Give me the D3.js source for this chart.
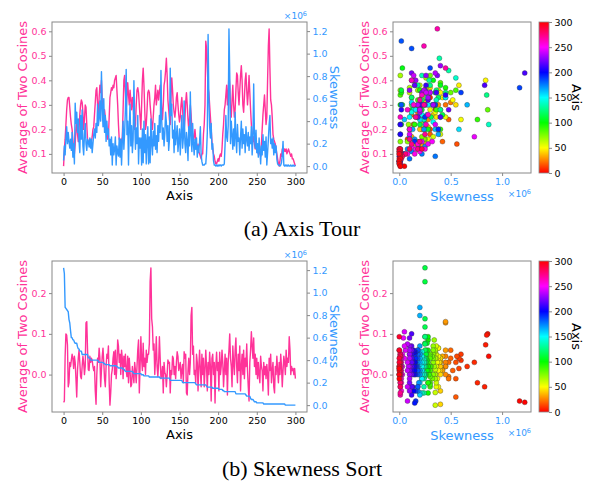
<!DOCTYPE html>
<html>
<head>
<meta charset="utf-8">
<script src="https://cdn.jsdelivr.net/npm/d3@7"></script>
<style>
body{margin:0;background:#fff}
</style>
</head>
<body>
<div id="chart"></div>
<script>
// axis index 0..300
var axisIdx = d3.range(0, 301);

// (a) Axis Tour : average of two cosines, per axis
var tourCos = [
 0.05,0.12,0.16,0.22,0.28,0.32,0.33,0.33,0.29,0.25,
 0.22,0.20,0.16,0.12,0.10,0.14,0.20,0.24,0.18,0.15,
 0.20,0.26,0.30,0.32,0.31,0.27,0.20,0.24,0.30,0.29,
 0.22,0.16,0.14,0.15,0.16,0.14,0.15,0.17,0.20,0.21,
 0.26,0.31,0.36,0.37,0.30,0.25,0.33,0.38,0.35,0.40,
 0.32,0.27,0.24,0.28,0.25,0.22,0.18,0.16,0.17,0.25,
 0.33,0.35,0.37,0.36,0.38,0.37,0.40,0.41,0.42,0.36,
 0.30,0.22,0.16,0.15,0.16,0.15,0.17,0.28,0.40,0.42,
 0.35,0.28,0.33,0.39,0.34,0.30,0.36,0.32,0.28,0.33,
 0.30,0.24,0.20,0.22,0.30,0.36,0.37,0.35,0.30,0.25,
 0.20,0.30,0.40,0.45,0.38,0.28,0.20,0.22,0.28,0.35,
 0.36,0.35,0.30,0.26,0.22,0.20,0.25,0.30,0.33,0.38,
 0.30,0.33,0.36,0.32,0.35,0.38,0.34,0.28,0.24,0.30,
 0.38,0.40,0.44,0.49,0.42,0.32,0.28,0.24,0.22,0.33,
 0.41,0.36,0.30,0.27,0.25,0.28,0.33,0.35,0.30,0.26,
 0.23,0.25,0.30,0.33,0.28,0.22,0.20,0.24,0.31,0.35,
 0.30,0.24,0.20,0.25,0.30,0.26,0.20,0.18,0.15,0.17,
 0.20,0.16,0.13,0.12,0.14,0.11,0.10,0.09,0.08,0.10,
 0.10,0.18,0.22,0.30,0.56,0.53,0.45,0.37,0.35,0.30,
 0.25,0.20,0.15,0.12,0.10,0.09,0.07,0.06,0.06,0.07,
 0.08,0.07,0.09,0.10,0.09,0.12,0.18,0.22,0.28,0.30,
 0.34,0.38,0.30,0.35,0.43,0.38,0.28,0.25,0.32,0.38,
 0.30,0.25,0.28,0.36,0.43,0.42,0.35,0.30,0.36,0.42,
 0.46,0.40,0.30,0.27,0.33,0.40,0.43,0.36,0.30,0.35,
 0.42,0.35,0.28,0.22,0.18,0.15,0.17,0.14,0.12,0.15,
 0.13,0.11,0.10,0.12,0.10,0.09,0.14,0.20,0.26,0.30,
 0.34,0.28,0.22,0.25,0.40,0.54,0.61,0.45,0.32,0.30,
 0.25,0.18,0.16,0.15,0.14,0.12,0.10,0.08,0.06,0.05,
 0.07,0.10,0.09,0.12,0.12,0.11,0.12,0.11,0.12,0.10,
 0.11,0.12,0.11,0.10,0.09,0.10,0.08,0.08,0.07,0.06,0.05
];

// (a) Axis Tour : skewness per axis (x 1e6)
var tourSkew = [
 0.05,0.18,0.10,0.25,0.35,0.20,0.30,0.22,0.16,0.24,
 0.14,0.30,0.08,0.20,0.02,0.56,0.38,0.48,0.30,0.42,
 0.22,0.12,0.45,0.24,0.50,0.18,0.10,0.28,0.38,0.20,
 0.14,0.24,0.22,0.17,0.25,0.16,0.24,0.12,0.20,0.28,
 0.33,0.25,0.38,0.30,0.55,0.36,0.42,0.58,0.40,0.84,
 0.52,0.35,0.60,0.30,0.45,0.22,0.40,0.28,0.33,0.18,
 0.24,0.10,0.26,0.01,0.20,0.10,0.15,0.26,0.01,0.18,
 0.12,0.09,0.25,0.08,0.24,0.01,0.22,0.40,0.15,0.30,
 0.50,0.86,0.28,0.40,0.01,0.35,0.55,0.18,0.36,0.12,
 0.24,0.76,0.40,0.15,0.34,0.20,0.45,0.02,0.25,0.16,
 0.25,0.01,0.33,0.03,0.40,0.12,0.28,0.02,0.22,0.35,
 0.02,0.26,0.03,0.42,0.20,0.10,0.31,0.18,0.38,0.15,
 0.27,0.12,0.36,0.22,0.45,0.30,0.85,0.40,0.24,0.34,
 0.18,0.29,0.48,0.39,0.22,0.36,0.14,0.24,0.87,0.45,
 0.55,0.25,0.32,0.12,0.40,0.19,0.27,0.36,0.13,0.22,
 0.33,0.10,0.28,0.45,0.16,0.25,0.58,0.20,0.12,0.30,
 0.22,0.05,0.35,0.18,0.66,0.27,0.13,0.38,0.20,0.10,
 0.24,0.15,0.25,0.08,0.18,0.12,0.22,0.35,0.10,0.04,
 0.01,0.01,0.01,0.02,0.02,0.12,0.30,1.17,0.60,0.35,
 0.25,0.38,0.15,0.20,0.05,0.01,0.01,0.00,0.01,0.00,
 0.01,0.00,0.01,0.01,0.00,0.01,0.01,0.01,0.02,0.20,
 0.45,0.26,0.22,0.36,1.22,0.83,0.20,0.40,0.28,0.15,
 0.33,0.18,0.48,0.25,0.12,0.37,0.22,0.25,0.10,0.26,
 0.40,0.16,0.33,0.20,0.28,0.12,0.35,0.24,0.18,0.30,
 0.14,0.26,0.20,0.35,0.10,0.22,0.73,0.28,0.16,0.32,
 0.12,0.20,0.08,0.25,0.15,0.02,0.18,0.10,0.28,0.14,
 0.22,0.08,0.26,0.01,0.12,0.24,0.37,0.45,0.20,0.24,
 0.16,0.25,0.10,0.20,0.12,0.18,0.06,0.02,0.01,0.01,
 0.00,0.01,0.03,0.10,0.22,0.01,0.00,0.01,0.00,0.01,
 0.00,0.01,0.00,0.00,0.01,0.00,0.00,0.01,0.00,0.00,0.01
];

// (b) Skewness Sort : average of two cosines, in skewness order
var sortCos = [
 -0.068,-0.065,0.045,0.100,0.097,0.073,-0.030,-0.020,0.030,0.020,
 0.035,0.050,0.040,0.015,0.045,0.030,-0.010,-0.055,0.010,0.040,
 0.060,0.030,-0.005,-0.010,0.020,0.045,0.030,0.000,0.020,0.127,
 0.130,0.060,0.012,0.010,0.045,0.030,0.040,0.035,0.020,0.010,
 0.020,-0.040,-0.073,0.000,0.040,0.030,0.065,0.040,-0.030,0.010,
 0.045,0.065,0.030,-0.010,-0.030,0.020,0.050,0.040,0.070,-0.020,
 -0.075,-0.044,0.000,0.012,0.040,0.056,0.000,0.060,-0.010,0.020,
 0.085,0.070,0.030,0.050,0.000,0.060,0.040,-0.010,0.045,0.020,
 0.050,0.010,-0.005,0.045,-0.020,0.040,0.010,-0.030,-0.025,0.020,
 0.000,-0.020,0.030,0.010,-0.020,0.020,0.060,0.085,-0.045,0.020,
 0.093,0.036,0.010,0.077,0.020,0.040,0.000,0.060,0.030,0.050,
 0.050,0.077,0.228,0.262,0.137,0.117,0.060,0.075,0.000,0.040,
 0.093,0.020,-0.005,0.030,0.093,0.040,-0.010,0.000,0.020,-0.045,
 0.030,0.005,0.000,-0.030,0.000,0.036,0.028,0.030,-0.045,0.010,
 0.000,0.045,0.040,0.000,0.020,-0.010,0.030,0.056,0.045,0.010,
 0.020,0.030,-0.010,0.010,0.025,-0.020,0.056,0.040,0.050,-0.045,
 -0.050,0.010,0.040,0.000,0.030,0.145,0.165,0.050,0.070,0.000,
 0.010,-0.020,0.050,0.030,-0.040,0.020,0.060,0.010,-0.030,0.050,
 0.000,0.040,-0.030,0.010,0.060,0.020,-0.040,0.030,0.000,0.055,
 0.020,-0.065,0.040,0.050,0.000,0.030,-0.070,0.020,0.055,0.010,
 0.030,-0.040,0.055,0.000,0.020,0.060,0.030,-0.030,0.010,0.050,
 0.000,0.040,-0.050,0.030,0.060,0.100,0.040,0.020,-0.030,0.070,
 0.030,0.000,0.060,0.090,0.020,-0.020,0.050,0.010,0.070,-0.040,
 0.020,0.050,0.000,0.060,-0.010,0.040,0.020,0.075,0.010,-0.030,
 -0.065,0.030,0.060,0.105,0.070,0.040,0.090,0.020,0.050,0.000,
 0.040,-0.010,0.030,0.000,-0.020,0.045,0.020,0.010,-0.040,0.030,
 0.000,0.020,-0.010,0.025,0.000,-0.050,0.040,0.010,0.050,-0.020,
 0.010,0.030,-0.030,-0.045,0.020,0.000,0.045,0.010,-0.020,0.030,
 0.000,0.050,0.020,-0.030,0.010,0.045,0.030,0.000,0.060,0.020,
 0.040,0.030,0.093,0.060,0.000,0.020,0.010,0.015,0.000,0.015,-0.010
];

// (b) skewness: the same skewness values, sorted high to low
var sortSkew = tourSkew.slice().sort(d3.descending);

var axisTicks = [0, 50, 100, 150, 200, 250, 300];
var tourCosTicks = [0.1, 0.2, 0.3, 0.4, 0.5, 0.6];
var sortCosTicks = [0.0, 0.1, 0.2];
var skewTicks = [0, 0.2, 0.4, 0.6, 0.8, 1.0, 1.2];
var scatterSkewTicks = [0, 0.5, 1.0];
var colorTicks = [0, 50, 100, 150, 200, 250, 300];
var captions = ["(a) Axis Tour", "(b) Skewness Sort"];

var pink = "#ff3399", blue = "#3399ff", frameCol = "#888";
var font = "'DejaVu Sans', sans-serif";

var svg = d3.select("#chart").append("svg")
    .attr("width", 590)
    .attr("height", 483)
    .style("font-family", font);

function padded(ext){
    var m = (ext[1] - ext[0]) * 0.05;
    return [ext[0] - m, ext[1] + m];
}
// matplotlib-like hsv colour for an axis index
function hsv(i){ return d3.hsl(i / 300 * 360, 1, 0.5).toString(); }

function styleAxis(g, col){
    g.attr("font-family", font).attr("font-size", 9.5);
    g.select(".domain").remove();
    g.selectAll(".tick line").attr("stroke", frameCol);
    g.selectAll(".tick text").attr("fill", col);
}

function offsetText(x, y, col){
    var t = svg.append("text")
        .attr("x", x).attr("y", y)
        .attr("text-anchor", "end")
        .attr("fill", col)
        .attr("font-size", 9);
    t.append("tspan").text("\u00d710");
    t.append("tspan").attr("dy", -3.5).attr("font-size", 6.5).text("6");
}

function yLabel(x, y, txt, col, rot){
    svg.append("text")
        .attr("transform", "translate(" + x + "," + y + ") rotate(" + rot + ")")
        .attr("text-anchor", "middle")
        .attr("fill", col)
        .attr("font-size", 13)
        .text(txt);
}

// line chart with twin y axes
function drawLines(dy, cos, skew, cosTicks){
    var top = 22 + dy, bottom = 173 + dy, left = 52, right = 307;
    var x = d3.scaleLinear().domain(padded([0, axisIdx.length - 1])).range([left, right]);
    var yc = d3.scaleLinear().domain(padded(d3.extent(cos))).range([bottom, top]);
    var ys = d3.scaleLinear().domain(padded(d3.extent(skew))).range([bottom, top]);

    svg.append("path").datum(cos)
        .attr("fill", "none").attr("stroke", pink).attr("stroke-width", 1.4)
        .attr("stroke-linejoin", "round")
        .attr("d", d3.line().x(function(d, i){ return x(axisIdx[i]); }).y(function(d){ return yc(d); }));
    svg.append("path").datum(skew)
        .attr("fill", "none").attr("stroke", blue).attr("stroke-width", 1.4)
        .attr("stroke-linejoin", "round")
        .attr("d", d3.line().x(function(d, i){ return x(axisIdx[i]); }).y(function(d){ return ys(d); }));

    svg.append("rect")
        .attr("x", left).attr("y", top)
        .attr("width", right - left).attr("height", bottom - top)
        .attr("fill", "none").attr("stroke", frameCol).attr("stroke-width", 1);

    svg.append("g").attr("transform", "translate(0," + bottom + ")")
        .call(d3.axisBottom(x).tickValues(axisTicks).tickSize(3).tickPadding(2.5))
        .call(styleAxis, "#000");
    svg.append("g").attr("transform", "translate(" + left + ",0)")
        .call(d3.axisLeft(yc).tickValues(cosTicks).tickFormat(d3.format(".1f")).tickSize(3).tickPadding(2.5))
        .call(styleAxis, pink);
    svg.append("g").attr("transform", "translate(" + right + ",0)")
        .call(d3.axisRight(ys).tickValues(skewTicks).tickFormat(d3.format(".1f")).tickSize(3).tickPadding(2.5))
        .call(styleAxis, blue);

    svg.append("text")
        .attr("x", (left + right) / 2).attr("y", 200 + dy)
        .attr("text-anchor", "middle").attr("font-size", 13)
        .text("Axis");
    yLabel(27, (top + bottom) / 2, "Average of Two Cosines", pink, -90);
    yLabel(330, (top + bottom) / 2, "Skewness", blue, 90);
    offsetText(307, 19 + dy, blue);
}

// scatter of skewness vs cosines, coloured by axis index
function drawScatter(dy, cos, skew, cosTicks){
    var top = 22 + dy, bottom = 173 + dy, left = 393, right = 531;
    var x = d3.scaleLinear().domain(padded(d3.extent(skew))).range([left, right]);
    var y = d3.scaleLinear().domain(padded(d3.extent(cos))).range([bottom, top]);

    svg.append("g").selectAll("circle")
        .data(axisIdx)
      .enter().append("circle")
        .attr("cx", function(i){ return x(skew[i]); })
        .attr("cy", function(i){ return y(cos[i]); })
        .attr("r", 2.5)
        .attr("fill", function(i){ return hsv(i); })
        .attr("stroke", "#333")
        .attr("stroke-width", 0.35);

    svg.append("rect")
        .attr("x", left).attr("y", top)
        .attr("width", right - left).attr("height", bottom - top)
        .attr("fill", "none").attr("stroke", frameCol).attr("stroke-width", 1);

    svg.append("g").attr("transform", "translate(0," + bottom + ")")
        .call(d3.axisBottom(x).tickValues(scatterSkewTicks).tickFormat(d3.format(".1f")).tickSize(3).tickPadding(2.5))
        .call(styleAxis, blue);
    svg.append("g").attr("transform", "translate(" + left + ",0)")
        .call(d3.axisLeft(y).tickValues(cosTicks).tickFormat(d3.format(".1f")).tickSize(3).tickPadding(2.5))
        .call(styleAxis, pink);

    svg.append("text")
        .attr("x", (left + right) / 2).attr("y", 200.5 + dy)
        .attr("text-anchor", "middle").attr("font-size", 13)
        .attr("fill", blue)
        .text("Skewness");
    yLabel(368.5, (top + bottom) / 2, "Average of Two Cosines", pink, -90);
    offsetText(531, 197 + dy, blue);
}

// colour bar 0..300
function drawColorbar(dy, id){
    var top = 22 + dy, bottom = 173 + dy, left = 539, w = 10;
    var c = d3.scaleLinear().domain([0, 300]).range([bottom, top]);
    var grad = svg.append("defs").append("linearGradient")
        .attr("id", id).attr("x1", 0).attr("x2", 0).attr("y1", 1).attr("y2", 0);
    grad.selectAll("stop")
        .data(d3.range(0, 301, 10))
      .enter().append("stop")
        .attr("offset", function(d){ return d / 300; })
        .attr("stop-color", function(d){ return hsv(d); });
    svg.append("rect")
        .attr("x", left).attr("y", top)
        .attr("width", w).attr("height", bottom - top)
        .attr("fill", "url(#" + id + ")")
        .attr("stroke", frameCol).attr("stroke-width", 0.8);
    svg.append("g").attr("transform", "translate(" + (left + w) + ",0)")
        .call(d3.axisRight(c).tickValues(colorTicks).tickSize(3).tickPadding(2.5))
        .call(styleAxis, "#000");
    yLabel(572, (top + bottom) / 2, "Axis", "#000", 90);
}

drawLines(0, tourCos, tourSkew, tourCosTicks);
drawScatter(0, tourCos, tourSkew, tourCosTicks);
drawColorbar(0, "cbA");
drawLines(239, sortCos, sortSkew, sortCosTicks);
drawScatter(239, sortCos, sortSkew, sortCosTicks);
drawColorbar(239, "cbB");

svg.selectAll(".caption")
    .data(captions)
  .enter().append("text")
    .attr("class", "caption")
    .attr("x", 302)
    .attr("y", function(d, i){ return 236 + i * 240; })
    .attr("text-anchor", "middle")
    .attr("font-family", "'Liberation Serif', 'Times New Roman', serif")
    .attr("font-size", 22)
    .text(function(d){ return d; });
</script>
</body>
</html>
